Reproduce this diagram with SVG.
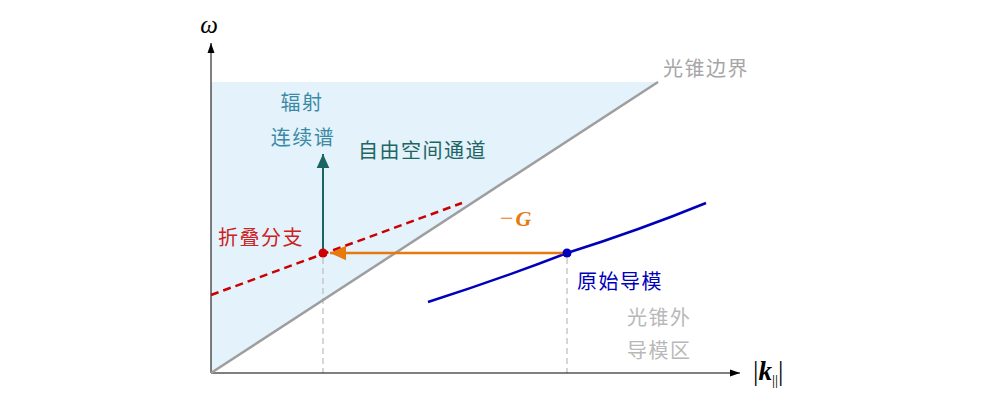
<svg xmlns="http://www.w3.org/2000/svg" width="998" height="410" viewBox="0 0 998 410">
<style>
.cjk{font-family:"Noto Sans CJK SC","Noto Sans",sans-serif;font-size:20px;letter-spacing:1.5px}
.math{font-family:"Liberation Serif","DejaVu Serif",serif}
</style>
<defs>
<marker id="ah" viewBox="0 0 10 10" refX="10" refY="5" markerWidth="10" markerHeight="10" markerUnits="userSpaceOnUse" orient="auto"><path d="M0,1.5 L10,5 L0,8.5 Z" fill="#000"/></marker>
<marker id="teal" viewBox="0 0 10 10" refX="10" refY="5" markerWidth="14" markerHeight="14" markerUnits="userSpaceOnUse" orient="auto"><path d="M0,0.5 L10,5 L0,9.5 Z" fill="#1a6461"/></marker>
<marker id="orange" viewBox="0 0 10 10" refX="10" refY="5" markerWidth="16" markerHeight="16" markerUnits="userSpaceOnUse" orient="auto"><path d="M0,0.5 L10,5 L0,9.5 Z" fill="#e8790f"/></marker>
</defs>
<rect width="998" height="410" fill="#fff"/>
<g id="region">
<polygon points="211,373 211,82 658,82" fill="#e3f2fb"/>
</g>
<g id="guides">
<line x1="323" y1="258" x2="323" y2="373" stroke="#bbbbbb" stroke-width="1.2" stroke-dasharray="6,4"/>
<line x1="567" y1="258" x2="567" y2="373" stroke="#bbbbbb" stroke-width="1.2" stroke-dasharray="6,4"/>
</g>
<g id="axes">
<line x1="211" y1="373" x2="211" y2="43" stroke="#000" stroke-width="1" marker-end="url(#ah)"/>
<line x1="211" y1="373" x2="740" y2="373" stroke="#000" stroke-width="1" marker-end="url(#ah)"/>
</g>
<g id="light-cone">
<line x1="211" y1="373" x2="658" y2="82" stroke="#9e9e9e" stroke-width="2.5"/>
</g>
<g id="folded-branch">
<line x1="211" y1="295" x2="462" y2="203" stroke="#cc0000" stroke-width="2.5" stroke-dasharray="8,5"/>
</g>
<g id="guided-mode">
<path d="M428,302 Q500,279 567,253 Q640,230 706,203" fill="none" stroke="#0000bb" stroke-width="2.5"/>
</g>
<g id="connectors">
<line x1="323" y1="253" x2="323" y2="154" stroke="#1a6461" stroke-width="2" marker-end="url(#teal)"/>
<line x1="567" y1="253" x2="330" y2="253" stroke="#e8790f" stroke-width="2.5" marker-end="url(#orange)"/>
</g>
<g id="points">
<circle cx="323" cy="253" r="4.5" fill="#cc0000"/>
<circle cx="567" cy="253" r="4.5" fill="#0000bb"/>
</g>
<g id="labels">
<text x="209" y="33" class="math" font-size="25" font-style="italic" text-anchor="middle">ω</text>
<text x="663" y="76" class="cjk" fill="#a6a6a6">光锥边界</text>
<text x="302" y="110" class="cjk" fill="#3b8aa5" text-anchor="middle">辐射</text>
<text x="303" y="145" class="cjk" fill="#3b8aa5" text-anchor="middle">连续谱</text>
<text x="358" y="158" class="cjk" fill="#1f6663">自由空间通道</text>
<text x="218" y="245" class="cjk" fill="#cc2222">折叠分支</text>
<text x="500" y="226" class="math" font-size="24" fill="#e8790f">−<tspan dx="2" font-size="22" font-weight="bold" font-style="italic">G</tspan></text>
<text x="577" y="289" class="cjk" fill="#0000bb">原始导模</text>
<text x="627" y="325" class="cjk" fill="#b8b8b8">光锥外</text>
<text x="627" y="358" class="cjk" fill="#b8b8b8">导模区</text>
<text x="753" y="380" class="math" font-size="27">|<tspan font-weight="bold" font-style="italic">k</tspan><tspan font-size="15" dy="5">||</tspan><tspan dy="-5">|</tspan></text>
</g>
</svg>
